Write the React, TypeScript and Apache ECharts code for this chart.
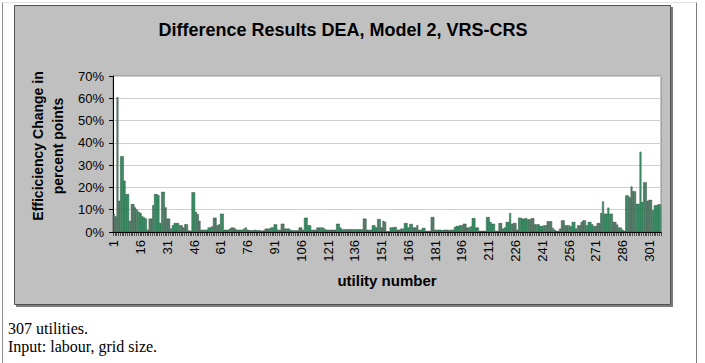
import { useEffect, useRef } from "react";
import * as echarts from "echarts";

// VRS minus CRS efficiency, in percentage points, per utility (1..307)
const efficiencyChange: number[] = [
  8, 7, 60.5, 14, 34, 34, 23, 17, 17, 5,
  12.5, 12.5, 11, 10, 9, 8.5, 7, 6.5, 6, 1,
  6, 6, 12, 17, 17, 16.5, 4, 18, 18, 11,
  6, 6, 1.5, 3, 4, 4, 4, 3, 3, 2,
  3.5, 3.5, 0.7, 0.5, 17.8, 17.8, 9, 8, 5, 1,
  1, 1, 1, 2, 2, 2.5, 6.4, 6.4, 3, 3.4,
  8.2, 8.2, 1, 1, 1, 1.5, 2, 2, 1.5, 1,
  1, 1, 1, 1.5, 2, 1, 0.8, 0.8, 0.8, 1,
  0.8, 0.8, 0.8, 0.5, 0.8, 1.5, 1.5, 1.5, 2, 2,
  3.4, 3.4, 1, 1, 3.7, 3.7, 1.5, 1.5, 1.5, 1,
  0.7, 0.7, 0.7, 0.7, 2, 2, 1, 6.4, 6.4, 3,
  3, 1, 1, 1, 2, 2, 2, 2, 1.5, 1,
  1, 1, 1, 1, 1, 3.7, 3.7, 2, 1.2, 1.2,
  1.2, 1.2, 1.2, 1.2, 1.2, 1.2, 1.2, 1.2, 1.2, 1.2,
  6, 6, 1, 1, 1, 3, 3, 2, 5.8, 5.8,
  2, 5, 4.5, 0.3, 0.3, 2, 2, 2.2, 2.2, 1,
  1, 1.5, 1.5, 4, 4, 2, 3.6, 3.6, 2, 2,
  3, 1, 1, 1.8, 1.8, 0.5, 0.5, 0.5, 6.7, 6.7,
  1, 1, 1, 1, 0.8, 1, 1, 1, 0.8, 1,
  1, 2.2, 2.7, 2.7, 3, 3, 3.7, 3.7, 2, 2,
  2.5, 6.2, 6.2, 2, 2, 0.5, 0.5, 0.5, 0.5, 6.7,
  6.7, 4.5, 3.7, 3.7, 0.5, 0.5, 4, 4, 1.5, 2,
  4.5, 4.5, 8.5, 3.7, 4, 4, 1, 6.4, 6.4, 6,
  6, 6.2, 5.7, 5.7, 6.2, 6.2, 3.4, 3.4, 3.4, 2.7,
  2.7, 3, 3, 4.8, 4.8, 4.8, 1.8, 1, 0.5, 0.5,
  1.5, 5.2, 5.2, 3, 3, 3, 2.5, 4.5, 4.5, 1.5,
  3, 3, 4.5, 5.2, 5.2, 3, 4.5, 4.5, 3.4, 2.7,
  2.7, 4, 4, 8.5, 13.7, 8.2, 8.2, 10.9, 8.2, 8.2,
  4.5, 4.5, 3.3, 2, 2, 1, 0.5, 16.4, 16.4, 15.6,
  20.4, 18.3, 18.3, 12.6, 12.6, 36, 13.4, 22.3, 22.3, 14,
  14.4, 14.4, 9.7, 12, 12, 12.4, 12.4,
];

// Utility numbers along the category axis
const utilityNumbers: string[] = efficiencyChange.map((_, i) => String(i + 1));

// Value axis range (percent points)
const yMin = 0;
const yMax = 70;
const yStep = 10;

const chartTitle = "Difference Results DEA, Model 2, VRS-CRS";
const yAxisTitle = "Efficiciency Change in\npercent points";
const xAxisTitle = "utility number";
const footnotes = ["307 utilities.", "Input: labour, grid size."];

const sansFont = 'Arial, "Liberation Sans", sans-serif';
const serifFont = '"Times New Roman", "Liberation Serif", serif';

export default function App() {
  const ref = useRef<HTMLDivElement>(null);

  useEffect(() => {
    if (!ref.current) return;
    const chart = echarts.init(ref.current, undefined, { renderer: "svg" });

    chart.setOption({
      animation: false,
      backgroundColor: "#ffffff",
      graphic: [
        // page frame
        { type: "line", z: -20, shape: { x1: 2.5, y1: 2.5, x2: 2.5, y2: 363 }, style: { stroke: "#8c8c8c", lineWidth: 1 } },
        { type: "line", z: -20, shape: { x1: 2.5, y1: 2.5, x2: 696.5, y2: 2.5 }, style: { stroke: "#e2e2e2", lineWidth: 1 } },
        { type: "line", z: -20, shape: { x1: 696.5, y1: 2.5, x2: 696.5, y2: 363 }, style: { stroke: "#7a7a7a", lineWidth: 1 } },
        // chart area with its shadow
        { type: "rect", z: -19, shape: { x: 16, y: 7, width: 657, height: 300 }, style: { fill: "#7c7c7c" } },
        { type: "rect", z: -18, shape: { x: 14.5, y: 5.5, width: 656, height: 299 }, style: { fill: "#c0c0c0", stroke: "#505050", lineWidth: 1 } },
        {
          type: "text",
          z: 5,
          x: 343,
          y: 21,
          style: { text: chartTitle, fill: "#000", font: `bold 18px ${sansFont}`, textAlign: "center" },
        },
        // value axis title, two rotated lines
        {
          type: "text",
          z: 5,
          x: 48,
          y: 146,
          rotation: Math.PI / 2,
          style: {
            text: yAxisTitle,
            fill: "#000",
            font: `bold 14px ${sansFont}`,
            lineHeight: 20,
            textAlign: "center",
            textVerticalAlign: "middle",
          },
        },
        ...footnotes.map((t, i) => ({
          type: "text",
          z: 5,
          x: 8,
          y: 320 + i * 18.5,
          style: { text: t, fill: "#000", font: `16px ${serifFont}`, textAlign: "left" },
        })),
      ],
      grid: {
        left: 113,
        top: 76,
        width: 548,
        height: 156,
        show: true,
        backgroundColor: "#ffffff",
        borderColor: "#8a8a8a",
        borderWidth: 1,
        containLabel: false,
      },
      xAxis: {
        type: "category",
        data: utilityNumbers,
        boundaryGap: true,
        name: xAxisTitle,
        nameLocation: "middle",
        nameGap: 41,
        nameTextStyle: { fontFamily: sansFont, fontWeight: "bold", fontSize: 15, color: "#000" },
        axisLine: { show: true, lineStyle: { color: "#000", width: 1 } },
        axisTick: { show: true, interval: 0, length: 4, lineStyle: { color: "#000", width: 0.6 } },
        axisLabel: {
          interval: 14,
          rotate: 90,
          margin: 8,
          fontFamily: sansFont,
          fontSize: 13,
          color: "#000",
        },
        splitLine: { show: false },
      },
      yAxis: {
        type: "value",
        min: yMin,
        max: yMax,
        interval: yStep,
        axisLine: { show: true, lineStyle: { color: "#000", width: 1 } },
        axisTick: { show: true, length: 4, lineStyle: { color: "#000" } },
        axisLabel: {
          formatter: "{value}%",
          margin: 9,
          fontFamily: sansFont,
          fontSize: 13,
          color: "#000",
        },
        splitLine: { show: true, lineStyle: { color: "#cfcfcf", width: 1 } },
      },
      series: [
        {
          type: "bar",
          data: efficiencyChange,
          barCategoryGap: "0%",
          itemStyle: { color: "#3ea372", borderColor: "#111", borderWidth: 0.35 },
        },
      ],
    });

    return () => chart.dispose();
  }, []);

  return (
    <div
      ref={ref}
      style={{ position: "absolute", left: 0, top: 0, width: 705, height: 363 }}
    />
  );
}
